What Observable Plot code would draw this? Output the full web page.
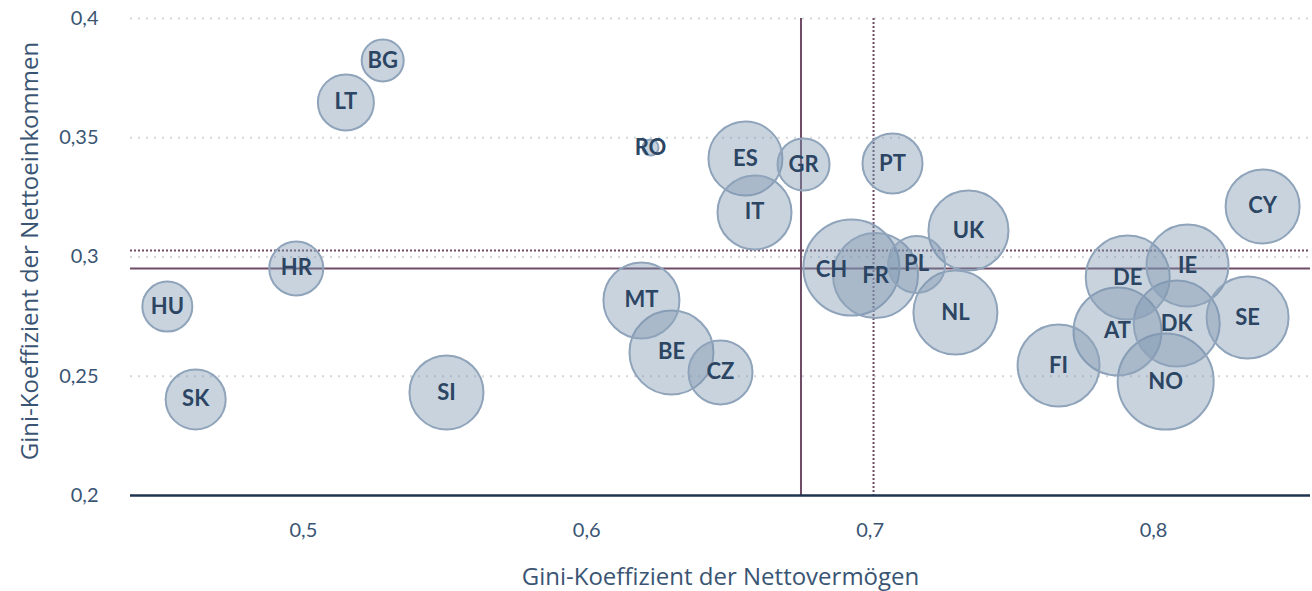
<!DOCTYPE html>
<html>
<head>
<meta charset="utf-8">
<script src="https://cdn.jsdelivr.net/npm/d3@7"></script>
<script src="https://cdn.jsdelivr.net/npm/@observablehq/plot@0.6"></script>
<style>
  html, body { margin: 0; padding: 0; background: #fff; }
  #chart { width: 1312px; height: 591px; }
</style>
</head>
<body>
<div id="chart"></div>
<script>
// Countries and their values
const countries   = ["BG","LT","HR","HU","SK","SI","RO","MT","BE","CZ","ES","IT","GR","CH","FR","PL","PT","UK","NL","FI","AT","DE","DK","NO","IE","SE","CY"];
const wealthGini  = [0.528,0.515,0.4975,0.452,0.462,0.5505,0.6225,0.6193,0.6299,0.6472,0.656,0.6592,0.6765,0.6934,0.7019,0.7164,0.7079,0.7347,0.7301,0.7665,0.7873,0.7909,0.8082,0.8043,0.812,0.8332,0.8385];
const incomeGini  = [0.3824,0.3648,0.2952,0.2792,0.2403,0.2432,0.3459,0.2818,0.2600,0.2516,0.3413,0.3187,0.3388,0.2956,0.2922,0.2969,0.3392,0.3111,0.2767,0.2545,0.2688,0.2914,0.2721,0.2478,0.2964,0.2746,0.3212];
const bubbleSize  = [21,28,27,25,30,37,8,38,42,32,37,37,26,48,42.5,28.5,30,40,42,41,44,42,43,48,41,41,37];

// Reference lines (averages)
const wealthRefSolid = [0.6756];
const wealthRefDotted = [0.7012];
const incomeRefSolid = [0.2952];
const incomeRefDotted = [0.3027];

const xTicks = [0.5, 0.6, 0.7, 0.8];
const yTicks = [0.2, 0.25, 0.3, 0.35, 0.4];
const xLabel = "Gini-Koeffizient der Nettovermögen";
const yLabel = "Gini-Koeffizient der Nettoeinkommen";

const data = countries.map((c, i) => ({country: c, wealth: wealthGini[i], income: incomeGini[i], size: bubbleSize[i]}));

const fmt = d => String(d).replace(".", ",");
const textColor = "#3a5573";
const refColor = "#6f4b66";
const titleFont = "'Open Sans', Lato, sans-serif";

const chart = Plot.plot({
  width: 1312,
  height: 591,
  marginLeft: 130,
  marginRight: 2,
  marginTop: 18,
  marginBottom: 96,
  style: {fontFamily: "Lato, 'Open Sans', sans-serif", fontSize: "20px", color: textColor, background: "#fff"},
  x: {domain: [0.439, 0.8554], ticks: xTicks, tickFormat: fmt},
  y: {domain: [0.2, 0.4], ticks: yTicks, tickFormat: fmt},
  r: {type: "linear", domain: [0, 48], range: [0, 48]},
  marks: [
    Plot.gridY(yTicks.filter(d => d > 0.2), {stroke: "#d3d7dc", strokeOpacity: 1, strokeWidth: 2, strokeDasharray: "2,6"}),
    Plot.axisX({ticks: xTicks, tickFormat: fmt, tickSize: 0, tickPadding: 27, fontSize: 20, fill: textColor, label: null}),
    Plot.axisY({ticks: yTicks, tickFormat: fmt, tickSize: 0, tickPadding: 32, fontSize: 20, fill: textColor, label: null}),
    Plot.text([xLabel], {frameAnchor: "bottom", text: d => d, dy: 82, lineAnchor: "middle", textAnchor: "middle", fontSize: 24, fontFamily: titleFont, fill: textColor}),
    Plot.text([yLabel], {frameAnchor: "left", text: d => d, dx: -100, dy: -6, rotate: -90, lineAnchor: "middle", textAnchor: "middle", fontSize: 24, fontFamily: titleFont, fill: textColor}),
    Plot.ruleX(wealthRefSolid, {stroke: refColor, strokeWidth: 2}),
    Plot.ruleX(wealthRefDotted, {stroke: refColor, strokeWidth: 2, strokeDasharray: "2,2"}),
    Plot.ruleY(incomeRefSolid, {stroke: refColor, strokeWidth: 2}),
    Plot.ruleY(incomeRefDotted, {stroke: refColor, strokeWidth: 2, strokeDasharray: "2,2"}),
    Plot.ruleY([0.2], {stroke: "#1e3551", strokeWidth: 2.5}),
    Plot.dot(data, {x: "wealth", y: "income", r: "size", fill: "#7b94af", fillOpacity: 0.41, stroke: "#8fa4ba", strokeWidth: 2}),
    Plot.text(data.filter(d => d.country !== "CH"), {x: "wealth", y: "income", text: "country", fontSize: 22, fontWeight: "bold", fill: "#2b4563"}),
    Plot.text(data.filter(d => d.country === "CH"), {x: "wealth", y: "income", text: "country", fontSize: 22, fontWeight: "bold", fill: "#2b4563", dx: -20, dy: 2})
  ]
});
document.getElementById("chart").appendChild(chart);
</script>
</body>
</html>
